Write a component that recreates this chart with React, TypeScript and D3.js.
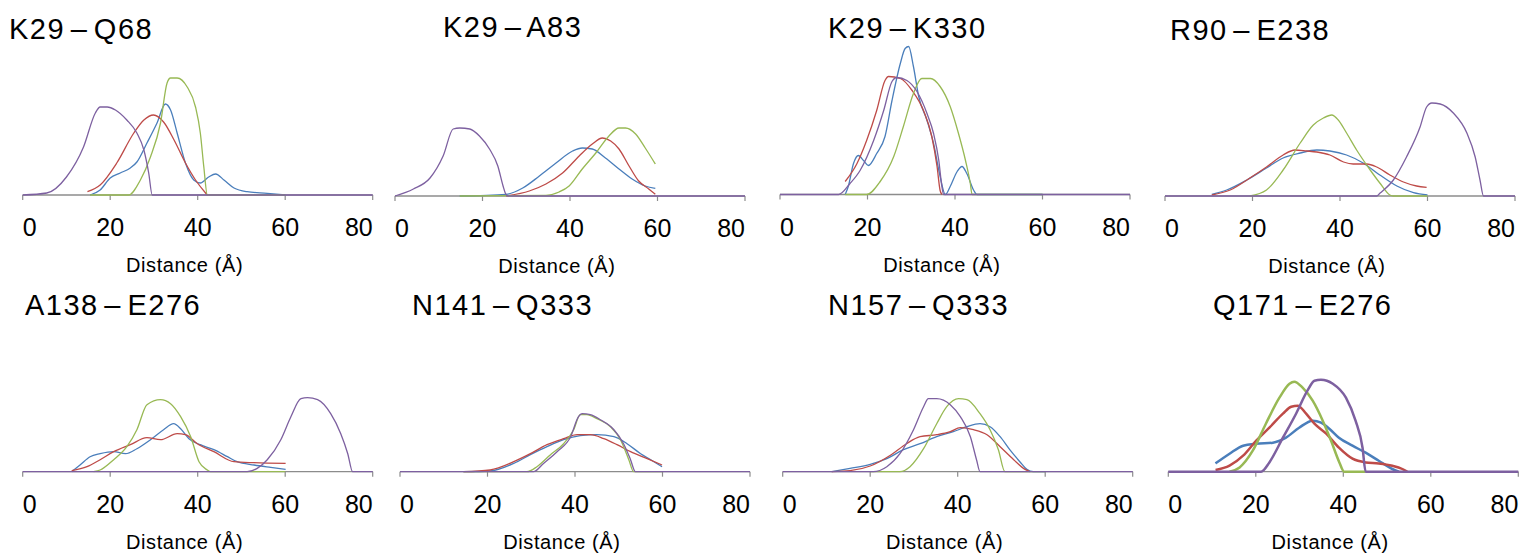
import React from "react";
import * as d3 from "d3";

type Pt = [number, number];

// distance (Å) vs relative frequency
const seriesNames = ["blue", "red", "green", "purple"];
const seriesColors = ["#4a7ebb", "#be4b48", "#98b954", "#7d60a0"];
const xTicks = [0, 20, 40, 60, 80];

const k29q68: Record<string, Pt[]> = {
  blue: [[15.4,0],[17.7,0.5],[20,1.7],[22.3,2.2],[24.6,2.7],[26.1,3.3],[28.4,5.2],[30.7,7.2],[32.6,9.1],[33.8,8.5],[35.3,6.2],[37.2,3.2],[39.1,1.5],[40.6,1.2],[42.5,1.8],[44.1,2.1],[46,1.5],[48.3,0.7],[51.3,0.33],[55.9,0.17],[60,0]],
  red: [[14.8,0.33],[17.7,1.0],[21.5,3.2],[25.4,6.2],[27.7,7.5],[29.9,8.0],[32.2,7.3],[34.6,5.5],[37.2,3.2],[39.5,1.5],[41.8,0.2],[42.2,0]],
  green: [[15.4,0],[24.2,0],[26.9,1.5],[29.2,3.8],[31.5,7.2],[33,11.2],[33.8,11.7],[35.3,11.7],[37.6,10.8],[39.5,8.8],[40.6,6.2],[41.4,2.8],[42.2,0],[60,0]],
  purple: [[0,0],[5.5,0.2],[10,1.8],[13.9,4.8],[16.6,8.2],[17.7,8.8],[19.3,8.8],[21.2,8.5],[23.8,7.5],[26.1,6.2],[27.7,4.5],[28.8,2.2],[29.6,0],[80,0]],
};

const k29a83: Record<string, Pt[]> = {
  blue: [[14.8,0],[25.4,0.17],[29.2,0.8],[33,2.0],[36.8,3.3],[40.6,4.5],[42.8,4.8],[45.1,4.7],[48.1,3.8],[51.2,2.7],[54.2,1.7],[57.2,1.0],[59.5,0.77]],
  red: [[25.4,0],[30.7,0.5],[34.5,1.2],[38.3,2.3],[42.1,4.0],[45.1,5.2],[47.4,5.8],[49.3,5.5],[51.2,4.7],[53.5,3.0],[55.7,1.5],[58,0.7],[59.5,0.17]],
  green: [[14.8,0],[34.5,0.07],[37.5,0.4],[39.8,1.0],[42.8,2.7],[45.9,4.3],[48.9,6.0],[51.2,6.8],[52.7,6.8],[55,6.2],[57.2,4.8],[59.5,3.2]],
  purple: [[0,0],[4.2,0.7],[8,1.8],[11,4.0],[13.3,6.7],[14.8,6.8],[17.1,6.7],[19.3,6.0],[21.6,4.7],[23.5,3.0],[24.7,1.0],[25.2,0.3],[25.8,0],[80,0]],
};

const k29k330: Record<string, Pt[]> = {
  blue: [[14.9,0],[15.6,0.8],[16.8,3.1],[17.9,3.9],[19.1,3.4],[20.2,2.9],[22.1,4.1],[24,5.8],[25.6,9.4],[27.5,13.1],[28.6,14.6],[29.4,14.8],[30.5,12.8],[31.7,9.8],[33.6,7.4],[35.1,5.1],[36.6,1.8],[37.8,0],[38.9,0.8],[40.5,2.3],[41.6,2.8],[42.7,2.1],[44.3,0.4],[45,0],[60,0]],
  red: [[14.9,1.3],[17.6,3.1],[19.8,5.4],[22.1,8.4],[24,11.4],[24.8,11.8],[27.5,11.6],[30.2,10.4],[32.8,8.4],[34.7,5.8],[35.9,2.8],[36.6,0.4],[37,0]],
  green: [[14.9,0],[19.8,0],[22.9,1.3],[26,3.8],[28.2,6.8],[30.5,10.1],[32.4,11.6],[34.4,11.6],[36.6,10.8],[38.9,8.8],[40.8,6.1],[42.4,3.4],[43.5,1.1],[43.9,0],[60,0]],
  purple: [[0,0],[13.4,0],[16,1.1],[18.3,2.4],[21.4,5.4],[23.7,8.4],[25.6,11.3],[26.7,11.7],[29,11.4],[31.3,10.3],[33.6,8.1],[35.1,6.1],[36.3,3.4],[37,0.8],[37.4,0],[80,0]],
};

const r90e238: Record<string, Pt[]> = {
  blue: [[10.7,0.17],[14.1,0.6],[18.7,1.6],[23.2,2.8],[27,3.8],[30.9,4.3],[34.7,4.6],[37.7,4.5],[41.5,4.1],[45.3,3.3],[49.1,2.1],[53,1.0],[56.8,0.33],[60,0.1]],
  red: [[10.7,0.1],[14.9,0.6],[19.4,1.8],[23.2,2.9],[27,4.1],[29.7,4.6],[32.4,4.5],[34.7,4.4],[37.7,4.1],[40.8,3.4],[43,3.2],[46.1,3.2],[48.4,2.9],[51.4,2.1],[54.5,1.4],[57.5,1.0],[59.8,0.87]],
  green: [[19.4,0],[23.2,0.6],[27,2.6],[30.9,5.3],[33.9,7.1],[36.2,7.8],[38.1,8.1],[39.6,7.6],[41.5,6.3],[43.8,4.6],[46.9,2.6],[49.1,1.3],[51.4,0.1],[52.2,0],[60,0]],
  purple: [[0,0],[48.4,0],[49.1,0.27],[52.2,1.6],[55.2,3.9],[58.3,6.9],[59.8,8.9],[61,9.3],[62.9,9.2],[65.9,8.3],[69,6.3],[70.9,3.9],[72,1.6],[72.8,0],[80,0]],
};

const a138e276: Record<string, Pt[]> = {
  blue: [[11.2,0],[13.1,0.67],[15.4,1.5],[17.7,1.8],[20.8,2.0],[23.5,1.8],[26.1,2.3],[29.2,3.2],[32.2,4.2],[34.5,4.8],[36.1,4.3],[38,3.3],[40.6,2.7],[43.7,2.2],[46.8,1.5],[49,1.0],[52.9,0.67],[56.7,0.43],[60.1,0.23]],
  red: [[11.2,0.1],[14.7,0.5],[17.7,1.2],[20.8,2.0],[24.6,2.7],[28.4,3.4],[31.5,3.2],[35.3,3.8],[37.2,3.7],[39.9,2.8],[43.7,2.0],[48.3,1.0],[52.9,0.9],[60.1,0.83]],
  green: [[16.2,0],[17.7,0.17],[20.8,1.2],[23.8,2.5],[26.1,4.2],[28.4,6.7],[31.5,7.2],[33.8,6.8],[36.1,5.5],[38.4,3.5],[40.3,1.0],[42.2,0.17],[42.9,0],[60,0]],
  purple: [[0,0],[51.3,0],[53.6,0.33],[55.9,1.2],[59,3.2],[61.3,5.5],[63.6,7.3],[65.1,7.4],[67.4,7.2],[70.4,5.8],[72.7,3.8],[74.3,1.8],[75.4,0],[80,0]],
};

const n141q333: Record<string, Pt[]> = {
  blue: [[14.5,0],[20.6,0.07],[26,0.83],[29.8,1.7],[33.6,2.5],[37.4,3.2],[41.2,3.6],[45,3.7],[48.9,3.5],[51.9,2.8],[55,1.8],[57.3,1.2],[59.9,0.5]],
  red: [[14.5,0],[20.6,0.17],[26,1.0],[29.8,1.8],[33.6,2.7],[37.4,3.3],[40.5,3.7],[43.5,3.7],[46.6,3.3],[49.6,2.7],[52.7,2.0],[56.5,1.3],[59.9,0.67]],
  green: [[14.5,0],[29,0],[31.3,0.5],[34.4,1.7],[37.4,2.8],[39.7,4.2],[41.2,5.7],[42.7,5.7],[45,5.3],[48.1,4.5],[50.4,3.2],[52.3,1.2],[53.4,0],[60,0]],
  purple: [[0,0],[30.5,0],[32.8,0.83],[35.9,2.0],[39,3.5],[40.8,5.5],[41.6,5.8],[43.5,5.7],[45.8,5.2],[48.9,4.2],[51.1,2.8],[52.7,1.2],[53.8,0],[80,0]],
};

const n157q333: Record<string, Pt[]> = {
  blue: [[11.2,0],[15.4,0.33],[20,0.73],[23.8,1.3],[27.6,2.2],[31.4,2.8],[35.2,3.5],[39,4.0],[42.1,4.5],[45.1,4.8],[47.4,4.5],[49.7,3.5],[51.9,2.2],[54.2,1.0],[55.8,0.23],[57.3,0],[60,0]],
  red: [[11.2,0],[15.4,0.1],[20,0.57],[24.8,1.7],[28.3,2.8],[31.4,3.5],[35.2,3.7],[38.3,4.0],[40.6,4.4],[43.6,4.2],[46.7,3.7],[49.7,2.5],[52.8,1.2],[55.4,0.23],[56.5,0]],
  green: [[20,0],[26.8,0],[29.1,0.5],[32.2,2.3],[35.2,4.8],[37.5,6.5],[40.2,7.3],[42.1,7.2],[45.1,5.8],[47.4,4.2],[49.3,2.2],[50.8,0],[60,0]],
  purple: [[0,0],[20.7,0],[23.8,0.5],[26.8,1.8],[29.9,4.2],[32.2,6.5],[33.3,7.3],[35.2,7.3],[38.3,6.7],[40.6,5.5],[42.9,3.5],[44.3,1.2],[45.1,0],[80,0]],
};

const q171e276: Record<string, Pt[]> = {
  blue: [[10.8,0.83],[14,1.8],[17.1,2.6],[20.1,2.8],[23.9,2.9],[26.9,3.4],[29.9,4.4],[33,5.1],[34.9,4.9],[36.8,4.3],[39,3.4],[42.1,2.6],[45.1,1.9],[48.1,1.1],[51.2,0.27],[52.7,0]],
  red: [[10.8,0.17],[14,0.6],[17.1,1.6],[20.1,3.1],[23.1,4.4],[26.2,5.8],[28.1,6.5],[29.6,6.6],[31.5,5.8],[33.4,4.8],[36.1,3.8],[39,2.4],[42.1,1.3],[45.1,0.93],[48.1,0.83],[51.2,0.6],[53.5,0.27],[54.6,0]],
  green: [[14,0],[16.3,0.43],[19.3,2.1],[22.3,4.8],[25.4,7.4],[27.7,8.8],[28.8,9.0],[30.7,8.4],[33,7.1],[35.3,5.1],[37.2,3.1],[39.1,0.93],[40.2,0],[45.1,0]],
  purple: [[0,0],[21.2,0],[23.1,0.93],[26.2,3.4],[29.2,5.8],[31.8,8.1],[33.4,9.1],[34.9,9.2],[37.6,8.8],[40.6,7.4],[42.8,5.1],[44.4,2.4],[45.1,0],[80,0]],
};

const titles = ["K29 – Q68", "K29 – A83", "K29 – K330", "R90 – E238", "A138 – E276", "N141 – Q333", "N157 – Q333", "Q171 – E276"];
const panelData = [k29q68, k29a83, k29k330, r90e238, a138e276, n141q333, n157q333, q171e276];

// layout of each small chart
const layout = [
  { x0: 22.7, axisY: 195, titleX: 9, titleY: 39, lw: 1.3 },
  { x0: 395, axisY: 196, titleX: 443, titleY: 37, lw: 1.3 },
  { x0: 780, axisY: 194.5, titleX: 828, titleY: 38, lw: 1.3 },
  { x0: 1165, axisY: 196, titleX: 1170, titleY: 40, lw: 1.3 },
  { x0: 22.7, axisY: 471.7, titleX: 25, titleY: 315, lw: 1.3 },
  { x0: 400, axisY: 471.7, titleX: 412, titleY: 315, lw: 1.3 },
  { x0: 782.7, axisY: 471.7, titleX: 828, titleY: 315, lw: 1.3 },
  { x0: 1168.3, axisY: 471.7, titleX: 1213, titleY: 315, lw: 2.5 },
];

const axisWidth = 350;
const plotHeight = 150;

const Panel = ({ idx }: { idx: number }) => {
  const L = layout[idx];
  const data = panelData[idx];
  const x = d3.scaleLinear().domain([0, 80]).range([L.x0, L.x0 + axisWidth]);
  const y = d3.scaleLinear().domain([0, 15]).range([L.axisY, L.axisY - plotHeight]);
  const line = d3
    .line<Pt>()
    .x((d) => x(d[0]))
    .y((d) => y(d[1]))
    .curve(d3.curveMonotoneX);

  return (
    <g>
      <text
        x={L.titleX}
        y={L.titleY}
        fontSize={29}
        letterSpacing={1.5}
        wordSpacing={-4}
        fill="#000"
      >
        {titles[idx]}
      </text>
      <line x1={x(0)} x2={x(80)} y1={y(0)} y2={y(0)} stroke="#8c8c8c" strokeWidth={1.3} />
      {xTicks.map((t, i) => (
        <g key={t}>
          <line x1={x(t)} x2={x(t)} y1={y(0)} y2={y(0) + 5} stroke="#8c8c8c" strokeWidth={1.2} />
          <text
            x={x(t)}
            y={y(0) + 41}
            fontSize={25}
            textAnchor={i === 0 ? "start" : i === xTicks.length - 1 ? "end" : "middle"}
            fill="#000"
          >
            {t}
          </text>
        </g>
      ))}
      {seriesNames.map((s, i) => (
        <path
          key={s}
          d={line(data[s]) || ""}
          fill="none"
          stroke={seriesColors[i]}
          strokeWidth={L.lw}
          strokeLinejoin="round"
        />
      ))}
      <text
        x={x(37)}
        y={y(0) + 77}
        fontSize={20}
        letterSpacing={0.6}
        textAnchor="middle"
        fill="#000"
      >
        Distance (Å)
      </text>
    </g>
  );
};

const App = () => {
  return (
    <svg
      width={1520}
      height={554}
      style={{ position: "absolute", left: 0, top: 0, background: "#fff" }}
      fontFamily="'Liberation Sans', Arial, sans-serif"
    >
      {titles.map((t, i) => (
        <Panel key={t} idx={i} />
      ))}
    </svg>
  );
};

export default App;
